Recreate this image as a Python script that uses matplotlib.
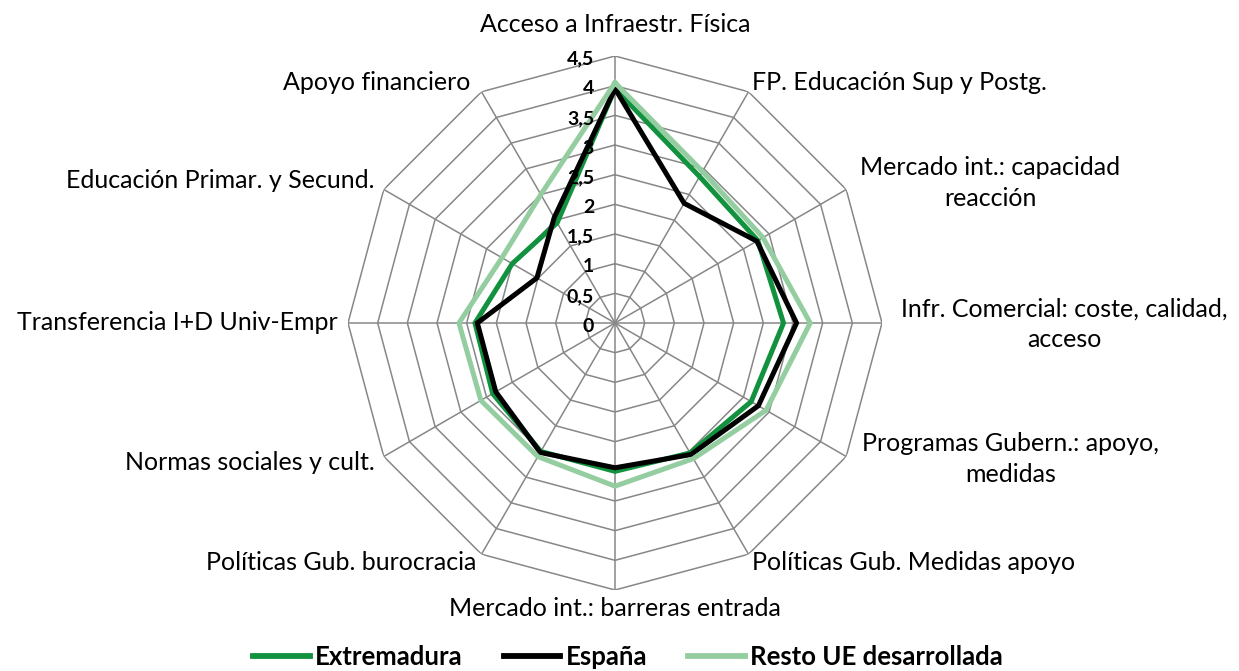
import numpy as np
import matplotlib
matplotlib.use('Agg')
import matplotlib.pyplot as plt
from matplotlib.lines import Line2D

plt.rcParams['font.family'] = ['Lato', 'DejaVu Sans']

# ---- data ----
categorias = ['Acceso a Infraestr. Física', 'FP. Educación Sup y Postg.',
              'Mercado int.: capacidad\nreacción', 'Infr. Comercial: coste, calidad,\nacceso',
              'Programas Gubern.: apoyo,\nmedidas', 'Políticas Gub. Medidas apoyo',
              'Mercado int.: barreras entrada', 'Políticas Gub. burocracia',
              'Normas sociales y cult.', 'Transferencia I+D Univ-Empr',
              'Educación Primar. y Secund.', 'Apoyo financiero']
extremadura = [3.95, 2.85, 2.78, 2.84, 2.65, 2.53, 2.50, 2.50, 2.38, 2.36, 2.00, 1.95]
espana      = [3.95, 2.33, 2.76, 3.06, 2.79, 2.56, 2.44, 2.52, 2.32, 2.32, 1.52, 2.05]
resto_ue    = [4.05, 2.95, 2.88, 3.29, 2.94, 2.64, 2.75, 2.60, 2.61, 2.63, 2.20, 2.50]
ticks = [0, 0.5, 1, 1.5, 2, 2.5, 3, 3.5, 4, 4.5]
tick_labels = ['0', '0,5', '1', '1,5', '2', '2,5', '3', '3,5', '4', '4,5']
series = [('Extremadura', extremadura, '#12923f'),
          ('España', espana, '#000000'),
          ('Resto UE desarrollada', resto_ue, '#94cda0')]

W, H = 1239, 671
fig = plt.figure(figsize=(W / 100, H / 100), dpi=100)
cx, cy, R = 615, 323, 267
ax = fig.add_axes([(cx - R) / W, (H - cy - R) / H, 2 * R / W, 2 * R / H], projection='polar')
ax.set_theta_offset(np.pi / 2)
ax.set_theta_direction(-1)
ax.set_ylim(0, 4.5)
ax.set_axis_off()

n = len(categorias)
ang = np.linspace(0, 2 * np.pi, n, endpoint=False)
ang_c = np.append(ang, ang[0])

# polygon grid
grid_col = '#878787'
for t in ticks[1:]:
    ax.plot(ang_c, [t] * (n + 1), color=grid_col, lw=1.1, zorder=1)
for a in ang:
    ax.plot([a, a], [0, 4.5], color=grid_col, lw=1.1, zorder=1)

for name, vals, col in series:
    ax.plot(ang_c, vals + vals[:1], color=col, lw=3.6, zorder=3, solid_joinstyle='miter')

# radial tick labels
for t, lab in zip(ticks, tick_labels):
    ax.annotate(lab, xy=(0, t), xytext=(-21, -3), textcoords='offset pixels',
                ha='right', va='center', fontsize=14, fontweight='bold', zorder=4)

# category labels (pixel anchors)
lab_pos = [(615, 24, 'center'), (752, 83, 'left'), (990, 183, 'center'), (1064, 324, 'center'),
           (1011, 459, 'center'), (752, 563, 'left'), (615, 609, 'center'), (476, 563, 'right'),
           (375, 463, 'right'), (338, 322, 'right'), (374, 181, 'right'), (470, 83, 'right')]
for txt, (x, y, ha) in zip(categorias, lab_pos):
    fig.text(x / W, 1 - y / H, txt, ha=ha, va='center', fontsize=18,
             multialignment='center', linespacing=1.4)

handles = [Line2D([], [], color=c, lw=4.2) for _, _, c in series]
leg = fig.legend(handles, [s[0] for s in series], loc='center', bbox_to_anchor=(628 / W, 1 - 657 / H),
                 ncol=3, frameon=False, handlelength=2.2, handletextpad=0.2, columnspacing=1.6,
                 prop={'weight': 'bold', 'size': 18.5}, borderaxespad=0, borderpad=0)

fig.savefig('out.png', dpi=100, facecolor='white')
